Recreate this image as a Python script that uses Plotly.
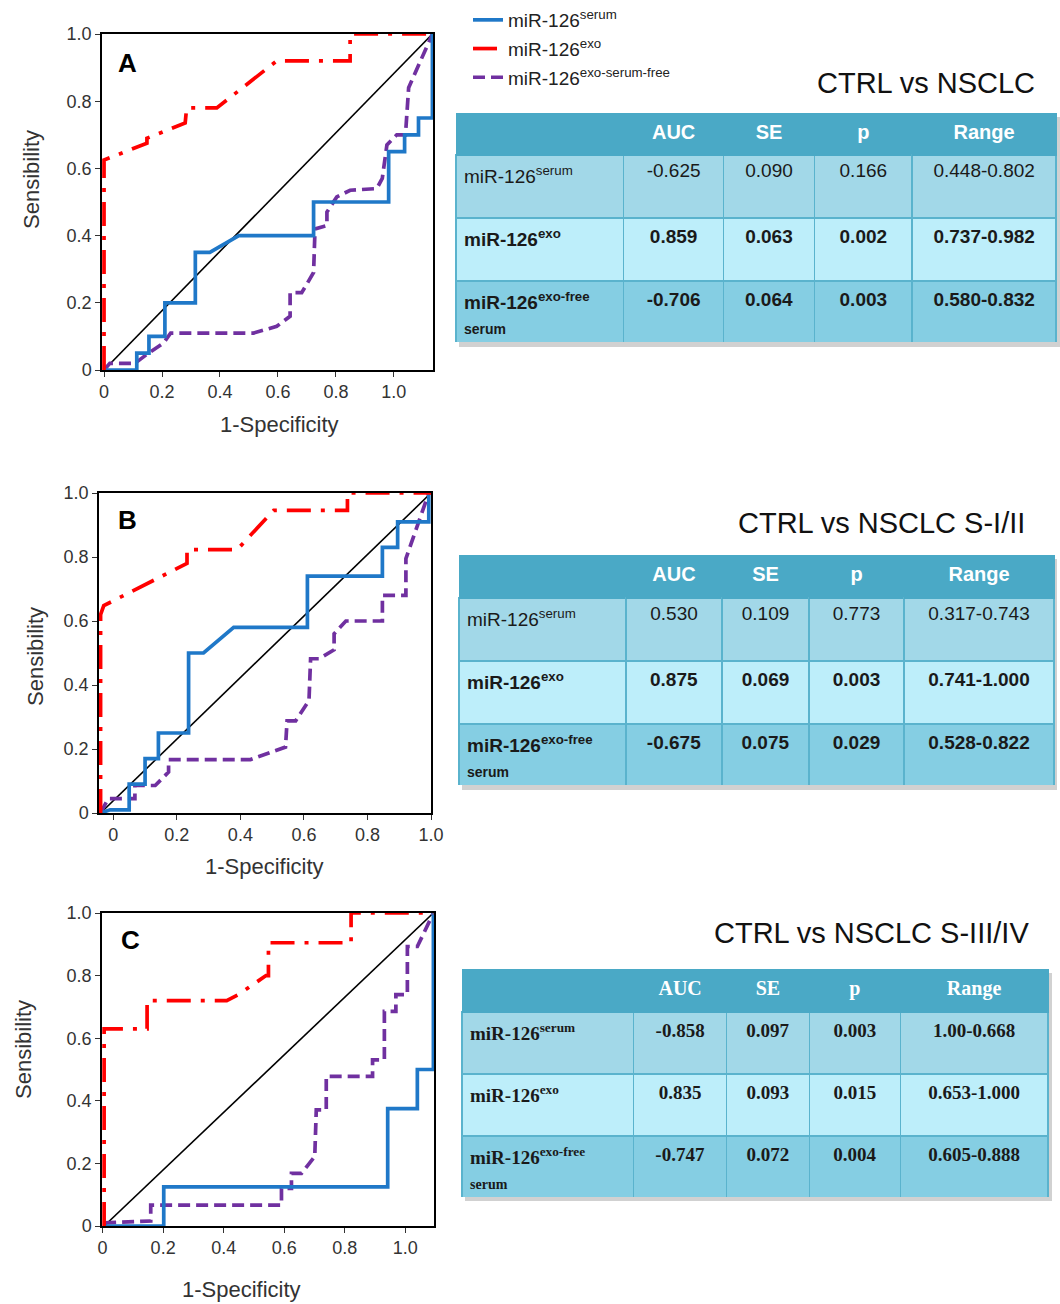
import plotly.graph_objects as go

W, H = 1060, 1304

# ---------------- ROC data ----------------
# Panel A : CTRL vs NSCLC
A_serum_x = [0, 0.113, 0.113, 0.155, 0.155, 0.21, 0.21, 0.315, 0.315, 0.365, 0.465, 0.723, 0.723, 0.982, 0.982, 1.037, 1.037, 1.085, 1.085, 1.133, 1.133]
A_serum_y = [0, 0, 0.05, 0.05, 0.10, 0.10, 0.20, 0.20, 0.35, 0.35, 0.40, 0.40, 0.50, 0.50, 0.65, 0.65, 0.70, 0.70, 0.75, 0.75, 1.0]
A_exo_x = [0, 0, 0.148, 0.148, 0.28, 0.285, 0.389, 0.596, 0.849, 0.849, 1.133]
A_exo_y = [0, 0.625, 0.675, 0.69, 0.735, 0.78, 0.78, 0.92, 0.92, 1.0, 1.0]
A_free_x = [0, 0.02, 0.107, 0.153, 0.205, 0.23, 0.516, 0.596, 0.642, 0.642, 0.682, 0.723, 0.728, 0.769, 0.769, 0.803, 0.849, 0.941, 0.96, 0.976, 1.01, 1.04, 1.051, 1.133]
A_free_y = [0, 0.02, 0.02, 0.05, 0.08, 0.11, 0.11, 0.13, 0.16, 0.23, 0.23, 0.29, 0.42, 0.43, 0.47, 0.515, 0.535, 0.54, 0.57, 0.67, 0.70, 0.70, 0.84, 1.0]
A_diag_x = [0, 1.133]
A_diag_y = [0, 1.0]

# Panel B : CTRL vs NSCLC S-I/II
B_serum_x = [-0.04, -0.01, 0.05, 0.05, 0.10, 0.10, 0.142, 0.142, 0.237, 0.237, 0.284, 0.379, 0.611, 0.611, 0.847, 0.847, 0.895, 0.895, 0.993, 0.993]
B_serum_y = [0, 0.01, 0.01, 0.09, 0.09, 0.17, 0.17, 0.25, 0.25, 0.50, 0.50, 0.58, 0.58, 0.74, 0.74, 0.83, 0.83, 0.91, 0.91, 1.0]
B_exo_x = [-0.04, -0.04, -0.03, 0.232, 0.232, 0.39, 0.505, 0.737, 0.737, 1.0]
B_exo_y = [0, 0.62, 0.648, 0.78, 0.823, 0.823, 0.946, 0.946, 1.0, 1.0]
B_free_x = [-0.04, -0.016, 0.068, 0.068, 0.132, 0.174, 0.174, 0.432, 0.542, 0.547, 0.574, 0.616, 0.621, 0.647, 0.695, 0.695, 0.732, 0.847, 0.847, 0.921, 0.921, 0.993]
B_free_y = [0, 0.045, 0.045, 0.086, 0.086, 0.128, 0.167, 0.167, 0.206, 0.288, 0.288, 0.352, 0.482, 0.482, 0.51, 0.56, 0.60, 0.60, 0.68, 0.68, 0.795, 1.0]
B_diag_x = [-0.04, 1.0]
B_diag_y = [0, 1.0]

# Panel C : CTRL vs NSCLC S-III/IV
C_serum_x = [0.005, 0.202, 0.202, 0.942, 0.942, 1.04, 1.04, 1.093, 1.093]
C_serum_y = [0, 0, 0.125, 0.125, 0.375, 0.375, 0.5, 0.5, 1.0]
C_exo_x = [0.005, 0.005, 0.147, 0.147, 0.41, 0.45, 0.54, 0.548, 0.548, 0.821, 0.821, 1.093]
C_exo_y = [0, 0.63, 0.63, 0.72, 0.72, 0.74, 0.80, 0.80, 0.905, 0.905, 1.0, 1.0]
C_free_x = [0.005, 0.159, 0.159, 0.591, 0.591, 0.624, 0.624, 0.657, 0.701, 0.706, 0.739, 0.739, 0.892, 0.892, 0.931, 0.931, 0.969, 0.969, 1.007, 1.007, 1.04, 1.093]
C_free_y = [0.01, 0.016, 0.067, 0.067, 0.12, 0.12, 0.168, 0.168, 0.222, 0.371, 0.371, 0.478, 0.478, 0.531, 0.531, 0.686, 0.686, 0.739, 0.739, 0.893, 0.893, 1.0]
C_diag_x = [0.005, 1.093]
C_diag_y = [0, 1.0]

tick_vals = [0, 0.2, 0.4, 0.6, 0.8, 1.0]
tick_text = ["0", "0.2", "0.4", "0.6", "0.8", "1.0"]

# ---------------- table data ----------------
header_labels = ["", "AUC", "SE", "p", "Range"]
row_names = ["miR-126<sup>serum</sup>", "miR-126<sup>exo</sup>", "miR-126<sup>exo-free</sup>"]
row_sub = ["", "", "serum"]

A_auc = ["-0.625", "0.859", "-0.706"]
A_se = ["0.090", "0.063", "0.064"]
A_p = ["0.166", "0.002", "0.003"]
A_range = ["0.448-0.802", "0.737-0.982", "0.580-0.832"]

B_auc = ["0.530", "0.875", "-0.675"]
B_se = ["0.109", "0.069", "0.075"]
B_p = ["0.773", "0.003", "0.029"]
B_range = ["0.317-0.743", "0.741-1.000", "0.528-0.822"]

C_auc = ["-0.858", "0.835", "-0.747"]
C_se = ["0.097", "0.093", "0.072"]
C_p = ["0.003", "0.015", "0.004"]
C_range = ["1.00-0.668", "0.653-1.000", "0.605-0.888"]

titles = ["CTRL vs NSCLC", "CTRL vs NSCLC S-I/II", "CTRL vs NSCLC S-III/IV"]
letters = ["A", "B", "C"]
legend_names = ["miR-126<sup>serum</sup>", "miR-126<sup>exo</sup>", "miR-126<sup>exo-serum-free</sup>"]

# ---------------- styling ----------------
BLUE = "#1f78c8"
RED = "#ff0000"
PURPLE = "#7030a0"
HEAD = "#4aa9c6"
ROW_FILLS = ["#a2d8e8", "#bdeefa", "#85cee3"]
LINE = "#5ab3cd"


def fx(px):
    return px / W


def fy(py):
    return 1 - py / H


fig = go.Figure()

panels = [
    dict(ax="", serum=(A_serum_x, A_serum_y), exo=(A_exo_x, A_exo_y), free=(A_free_x, A_free_y),
         diag=(A_diag_x, A_diag_y), box=(102, 433, 34, 370), xr=[-0.007, 1.135]),
    dict(ax="2", serum=(B_serum_x, B_serum_y), exo=(B_exo_x, B_exo_y), free=(B_free_x, B_free_y),
         diag=(B_diag_x, B_diag_y), box=(99, 431, 493, 813), xr=[-0.045, 1.0]),
    dict(ax="3", serum=(C_serum_x, C_serum_y), exo=(C_exo_x, C_exo_y), free=(C_free_x, C_free_y),
         diag=(C_diag_x, C_diag_y), box=(102, 434, 913, 1226), xr=[-0.002, 1.095]),
]

for i, p in enumerate(panels):
    xa, ya = "x" + p["ax"], "y" + p["ax"]
    first = i == 0
    fig.add_trace(go.Scatter(x=p["diag"][0], y=p["diag"][1], mode="lines", xaxis=xa, yaxis=ya,
                             line=dict(color="black", width=1.6), showlegend=False, hoverinfo="skip"))
    fig.add_trace(go.Scatter(x=p["free"][0], y=p["free"][1], mode="lines", xaxis=xa, yaxis=ya,
                             name=legend_names[2], legendrank=3, legendgroup="c",
                             line=dict(color=PURPLE, width=3.7, dash="12px,6px"), showlegend=first))
    fig.add_trace(go.Scatter(x=p["serum"][0], y=p["serum"][1], mode="lines", xaxis=xa, yaxis=ya,
                             name=legend_names[0], legendrank=1, legendgroup="a",
                             line=dict(color=BLUE, width=3.7), showlegend=first))
    fig.add_trace(go.Scatter(x=p["exo"][0], y=p["exo"][1], mode="lines", xaxis=xa, yaxis=ya,
                             name=legend_names[1], legendrank=2, legendgroup="b",
                             line=dict(color=RED, width=3.7, dash="24px,10px,4px,10px"), showlegend=first))

    l, r, t, b = p["box"]
    axis_common = dict(showline=True, mirror=True, linecolor="black", linewidth=1.5,
                       showgrid=False, zeroline=False, ticks="outside", ticklen=5,
                       tickcolor="#333", tickfont=dict(family="Arial", size=18, color="#333"))
    fig.update_layout(**{
        "xaxis" + p["ax"]: dict(domain=[fx(l), fx(r)], range=p["xr"], tickvals=tick_vals,
                                ticktext=tick_text, anchor=ya, **axis_common),
        "yaxis" + p["ax"]: dict(domain=[fy(b), fy(t)], range=[0, 1.0], tickvals=tick_vals,
                                ticktext=tick_text, anchor=xa, **axis_common),
    })

# axis titles, letters, panel titles
xt_pos = [(279, 424), (264, 866), (241, 1289)]
yt_pos = [(32, 180), (35, 657), (23, 1050)]
let_pos = [(127, 63), (127, 520), (130, 940)]
tit_pos = [(1037, 83), (1027, 523), (1031, 933)]
ann = []
for i in range(3):
    ann.append(dict(text="1-Specificity", x=fx(xt_pos[i][0]), y=fy(xt_pos[i][1]), xref="paper", yref="paper",
                    xanchor="center", yanchor="middle",
                    showarrow=False, font=dict(family="Arial", size=22, color="#333")))
    ann.append(dict(text="Sensibility", x=fx(yt_pos[i][0]), y=fy(yt_pos[i][1]), xref="paper", yref="paper",
                    xanchor="center", yanchor="middle",
                    showarrow=False, textangle=-90, font=dict(family="Arial", size=22, color="#333")))
    ann.append(dict(text="<b>" + letters[i] + "</b>", x=fx(let_pos[i][0]), y=fy(let_pos[i][1]),
                    xref="paper", yref="paper", showarrow=False, xanchor="center", yanchor="middle",
                    font=dict(family="Arial", size=26, color="black")))
    ann.append(dict(text=titles[i], x=fx(tit_pos[i][0]), y=fy(tit_pos[i][1]), xref="paper", yref="paper",
                    xanchor="right", yanchor="middle", showarrow=False,
                    font=dict(family="Arial", size=29, color="#111")))

# tables
tables = [
    dict(vals=(A_auc, A_se, A_p, A_range), box=(456, 1057, 113, 343), cw=[168, 100, 91, 98, 144],
         fam="Arial", bold=[False, True, True], hh=42, ch=63),
    dict(vals=(B_auc, B_se, B_p, B_range), box=(459, 1054, 555, 786), cw=[167, 96, 87, 95, 150],
         fam="Arial", bold=[False, True, True], hh=43, ch=63),
    dict(vals=(C_auc, C_se, C_p, C_range), box=(462, 1049, 969, 1197), cw=[172, 93, 83, 91, 148],
         fam="Liberation Serif", bold=[True, True, True], hh=43, ch=62),
]


def bold(s, on):
    return "<b>" + s + "</b>" if on else s


shapes = []
for tb in tables:
    names = []
    for k in range(3):
        s = bold(row_names[k], tb["bold"][k])
        if row_sub[k]:
            s += "<br>" + bold("<span style='font-size:14px'>" + row_sub[k] + "</span>", tb["bold"][k])
        names.append(s)
    cols = [names] + [[bold(v, tb["bold"][k]) for k, v in enumerate(col)] for col in tb["vals"]]
    l, r, t, b = tb["box"]
    shapes.append(dict(type="rect", xref="paper", yref="paper", layer="below",
                       x0=fx(l + 3), x1=fx(r + 3), y0=fy(b + 4), y1=fy(t + 4),
                       fillcolor="rgba(140,140,140,0.4)", line=dict(width=0)))
    fig.add_trace(go.Table(
        domain=dict(x=[fx(l), fx(r)], y=[fy(b), fy(t)]),
        columnwidth=tb["cw"],
        header=dict(values=["<b>" + h + "</b>" for h in header_labels], fill_color=HEAD,
                    line=dict(color=HEAD, width=1), height=tb["hh"], align="center",
                    font=dict(family=tb["fam"], size=20, color="white")),
        cells=dict(values=cols, fill_color=[ROW_FILLS] * 5, line=dict(color=LINE, width=1.5),
                   height=tb["ch"], align=["left", "center", "center", "center", "center"],
                   font=dict(family=tb["fam"], size=19, color="#1a1a1a")),
    ))

fig.update_layout(
    width=W, height=H, margin=dict(l=0, r=0, t=0, b=0, autoexpand=False),
    paper_bgcolor="white", plot_bgcolor="white",
    annotations=ann, shapes=shapes,
    legend=dict(x=fx(468), y=fy(1), xanchor="left", yanchor="top", bgcolor="rgba(0,0,0,0)",
                font=dict(family="Arial", size=19, color="#222"), tracegroupgap=1,
                itemwidth=30),
)

fig.write_html("out.html", config={"displayModeBar": False},
               post_script="document.body.style.margin='0';document.body.style.overflow='hidden';")
